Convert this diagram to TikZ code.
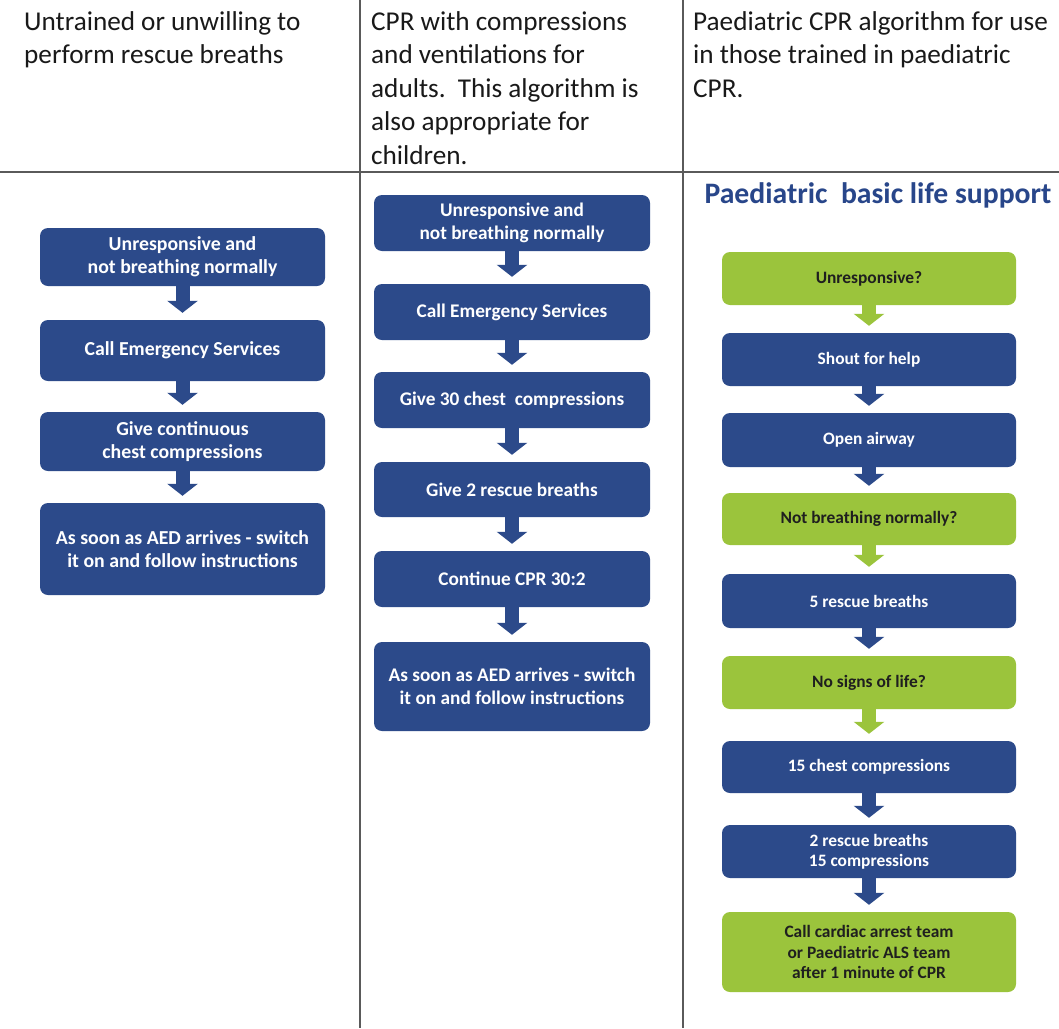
\documentclass[tikz,border=0pt]{standalone}
\usepackage{fontspec}
\setmainfont{Carlito}
\usetikzlibrary{arrows.meta}
\definecolor{navyC}{RGB}{44,74,138}
\definecolor{greenC}{RGB}{155,196,60}
\definecolor{gridC}{RGB}{90,90,90}
\definecolor{titleC}{RGB}{40,70,138}
\tikzset{
  boxbase/.style={rectangle, rounded corners=8pt, inner sep=2pt, align=center},
  navybox/.style={boxbase, fill=navyC, text=white},
  greenbox/.style={boxbase, fill=greenC, text=black!88},
  colone/.style={minimum width=285pt, font=\bfseries\fontsize{19.8}{23.3}\selectfont},
  coltwo/.style={minimum width=276pt, font=\bfseries\fontsize{19.3}{22.5}\selectfont},
  colthree/.style={minimum width=294pt, font=\bfseries\fontsize{17.4}{20.3}\selectfont},
  flowarrow/.style={draw=#1, line width=14pt, -{Triangle[width=30pt,length=12pt]}, shorten >=7pt},
  headtext/.style={anchor=north west, inner sep=0pt, align=left, font=\fontsize{27.2}{33.5}\selectfont, text=black!90},
  gridline/.style={draw=gridC, line width=1.5pt}
}
\begin{document}
\begin{tikzpicture}[x=1pt,y=-1pt]
\useasboundingbox[fill=white] (0,0) rectangle (1059,1028);
% table lines
\draw[gridline] (0,172) -- (1059,172);
\draw[gridline] (360,0) -- (360,1028);
\draw[gridline] (683,0) -- (683,1028);
% headers
\node[headtext] (h1) at (24,11) {Untrained or unwilling to\\perform rescue breaths};
\node[headtext] (h2) at (371,11) {CPR with compressions\\and ventilations for\\adults.\ \ This algorithm is\\also appropriate for\\children.};
\node[headtext] (h3) at (693,11) {Paediatric CPR algorithm for use\\in those trained in paediatric\\CPR.};
% column 1
\node[navybox, colone, minimum height=58pt] (c1a) at (182.5,257) {Unresponsive and\\not breathing normally};
\node[navybox, colone, minimum height=61pt] (c1b) at (182.5,350.5) {Call Emergency Services};
\node[navybox, colone, minimum height=59pt] (c1c) at (182.5,441.5) {Give continuous\\chest compressions};
\node[navybox, colone, minimum height=92pt] (c1d) at (182.5,549) {As soon as AED arrives - switch\\it on and follow instructions};
\draw[flowarrow=navyC] (c1a.south) -- (c1b.north);
\draw[flowarrow=navyC] (c1b.south) -- (c1c.north);
\draw[flowarrow=navyC] (c1c.south) -- (c1d.north);
% column 2
\node[navybox, coltwo, minimum height=56pt] (c2a) at (512,223) {Unresponsive and\\not breathing normally};
\node[navybox, coltwo, minimum height=56pt] (c2b) at (512,312) {Call Emergency Services};
\node[navybox, coltwo, minimum height=56pt] (c2c) at (512,400) {Give 30 chest\ \ compressions};
\node[navybox, coltwo, minimum height=55pt] (c2d) at (512,489.5) {Give 2 rescue breaths};
\node[navybox, coltwo, minimum height=56pt] (c2e) at (512,579) {Continue CPR 30:2};
\node[navybox, coltwo, minimum height=89pt] (c2f) at (512,686.5) {As soon as AED arrives - switch\\it on and follow instructions};
\draw[flowarrow=navyC] (c2a.south) -- (c2b.north);
\draw[flowarrow=navyC] (c2b.south) -- (c2c.north);
\draw[flowarrow=navyC] (c2c.south) -- (c2d.north);
\draw[flowarrow=navyC] (c2d.south) -- (c2e.north);
\draw[flowarrow=navyC] (c2e.south) -- (c2f.north);
% column 3
\node[anchor=base, inner sep=0pt, text=titleC, font=\bfseries\fontsize{29.7}{32}\selectfont] (title) at (878,203) {Paediatric\ \ basic life support};
\node[greenbox, colthree, minimum height=53pt] (g1) at (869,278.5) {Unresponsive?};
\node[navybox, colthree, minimum height=53pt] (b1) at (869,359.5) {Shout for help};
\node[navybox, colthree, minimum height=54pt] (b2) at (869,440) {Open airway};
\node[greenbox, colthree, minimum height=52pt] (g2) at (869,519) {Not breathing normally?};
\node[navybox, colthree, minimum height=54pt] (b3) at (869,601) {5 rescue breaths};
\node[greenbox, colthree, minimum height=53pt] (g3) at (869,682.5) {No signs of life?};
\node[navybox, colthree, minimum height=52pt] (b4) at (869,767) {15 chest compressions};
\node[navybox, colthree, minimum height=53pt] (b5) at (869,851.5) {2 rescue breaths\\15 compressions};
\node[greenbox, colthree, minimum height=80pt] (g4) at (869,952) {Call cardiac arrest team\\or Paediatric ALS team\\after 1 minute of CPR};
\draw[flowarrow=greenC] (g1.south) -- (b1.north);
\draw[flowarrow=navyC] (b1.south) -- (b2.north);
\draw[flowarrow=navyC] (b2.south) -- (g2.north);
\draw[flowarrow=greenC] (g2.south) -- (b3.north);
\draw[flowarrow=navyC] (b3.south) -- (g3.north);
\draw[flowarrow=greenC] (g3.south) -- (b4.north);
\draw[flowarrow=navyC] (b4.south) -- (b5.north);
\draw[flowarrow=navyC] (b5.south) -- (g4.north);
\end{tikzpicture}
\end{document}
